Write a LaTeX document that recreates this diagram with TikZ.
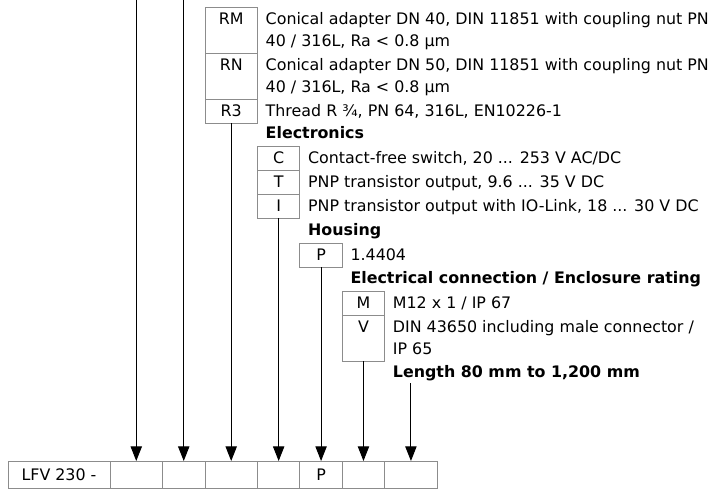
\documentclass[tikz,border=0pt]{standalone}
\usepackage{fontspec}
\setmainfont{DejaVu Sans}
\usetikzlibrary{arrows.meta,positioning}

\begin{document}
\begin{tikzpicture}[
  x=0.75pt, y=-0.75pt,
  font=\fontsize{11.9}{16.5}\selectfont,
  cell/.style={draw=black!45, line width=0.6pt, outer sep=0pt, inner sep=0pt,
               minimum height=20.25pt},
  wide/.style={minimum width=39.4pt},
  narrow/.style={minimum width=31.8pt},
  code/.style={draw=black!45, line width=0.6pt, outer sep=0pt, inner sep=0pt,
               text height=13pt, text depth=5pt},
  tall/.style={text depth=21.5pt},
  desc/.style={anchor=base west, align=left, inner sep=0pt},
  head/.style={desc, font=\fontsize{11.9}{16.5}\selectfont\bfseries},
  arrow/.style={-{Triangle[length=11pt, width=8.5pt]}, line width=0.75pt}]
  \useasboundingbox (0,0) rectangle (709,489);

  % type code row
  \node[cell, minimum width=76.5pt, anchor=north west] (lfv) at (8,461) {LFV 230 -};
  \node[cell, wide, right=0pt of lfv] (b1) {};
  \node[cell, narrow, right=0pt of b1] (b2) {};
  \node[cell, wide, right=0pt of b2] (b3) {};
  \node[cell, narrow, right=0pt of b3] (b4) {};
  \node[cell, narrow, right=0pt of b4] (b5) {P};
  \node[cell, narrow, right=0pt of b5] (b6) {};
  \node[cell, wide, right=0pt of b6] (b7) {};

  % process connection
  \node[code, wide, tall, anchor=north] (rm) at (b3 |- 0,7) {RM};
  \node[code, wide, tall, below=0pt of rm] (rn) {RN};
  \node[code, wide, below=0pt of rn] (r3) {R3};
  % two-line texts: base sits on the last line
  \node[desc] (rm-d) at ([xshift=6pt, yshift=-16.5pt]rm.base east)
    {Conical adapter DN 40, DIN 11851 with coupling nut PN\\40 / 316L, Ra < 0.8 µm};
  \node[desc] (rn-d) at ([xshift=6pt, yshift=-16.5pt]rn.base east)
    {Conical adapter DN 50, DIN 11851 with coupling nut PN\\40 / 316L, Ra < 0.8 µm};
  \node[desc] (r3-d) at ([xshift=6pt]r3.base east) {Thread R ¾, PN 64, 316L, EN10226-1};

  % electronics
  \node[head] (elec) at (r3-d.base west |- 0,138.5) {Electronics};
  \node[code, narrow, anchor=north] (c) at (b4 |- 0,146) {C};
  \node[code, narrow, below=0pt of c] (t) {T};
  \node[code, narrow, below=0pt of t] (i) {I};
  \node[desc] (c-d) at ([xshift=6pt]c.base east) {Contact-free switch, 20 ... 253 V AC/DC};
  \node[desc] (t-d) at ([xshift=6pt]t.base east) {PNP transistor output, 9.6 ... 35 V DC};
  \node[desc] (i-d) at ([xshift=6pt]i.base east) {PNP transistor output with IO-Link, 18 ... 30 V DC};

  % housing
  \node[head] (hous) at (c-d.base west |- 0,235.5) {Housing};
  \node[code, narrow, anchor=north] (p) at (b5 |- 0,243) {P};
  \node[desc] (p-d) at ([xshift=6pt]p.base east) {1.4404};

  % electrical connection
  \node[head] (conn) at (p-d.base west |- 0,283.5) {Electrical connection / Enclosure rating};
  \node[code, narrow, anchor=north] (m) at (b6 |- 0,291) {M};
  \node[code, narrow, tall, below=0pt of m] (v) {V};
  \node[desc] (m-d) at ([xshift=6pt]m.base east) {M12 x 1 / IP 67};
  \node[desc] (v-d) at ([xshift=6pt, yshift=-16.5pt]v.base east)
    {DIN 43650 including male connector /\\IP 65};

  % length
  \node[head] (len) at (m-d.base west |- 0,377.5) {Length 80 mm to 1,200 mm};

  \coordinate (top1) at (b1 |- 0,0);
  \coordinate (top2) at (b2 |- 0,0);
  \coordinate (len-end) at (b7 |- 0,383);

  \draw[arrow] (top1) -- (b1);
  \draw[arrow] (top2) -- (b2);
  \draw[arrow] (r3) -- (b3);
  \draw[arrow] (i) -- (b4);
  \draw[arrow] (p) -- (b5);
  \draw[arrow] (v) -- (b6);
  \draw[arrow] (len-end) -- (b7);
\end{tikzpicture}
\end{document}
